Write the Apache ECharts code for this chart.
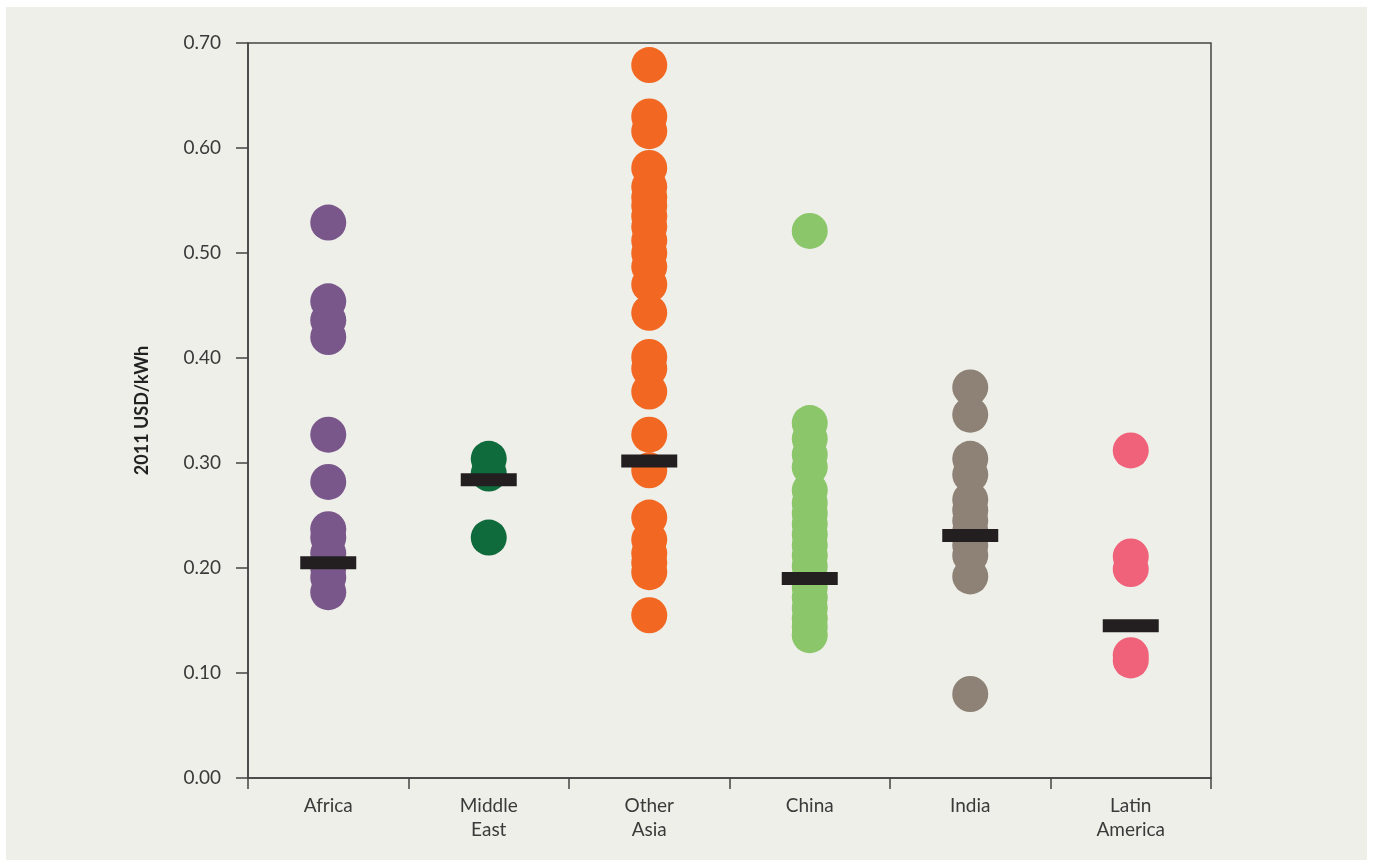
<!DOCTYPE html>
<html>
<head>
<meta charset="utf-8">
<script src="https://cdn.jsdelivr.net/npm/echarts@6/dist/echarts.min.js"></script>
<style>
  html, body { margin: 0; padding: 0; background: #ffffff; }
  #panel { position: absolute; left: 6px; top: 7px; width: 1361px; height: 853px; background: #efefe9; }
  #chart { position: absolute; left: 0; top: 0; width: 1373px; height: 865px; }
</style>
</head>
<body>
<div id="panel"></div>
<div id="chart"></div>
<script>
const categories = ['Africa', 'Middle\nEast', 'Other\nAsia', 'China', 'India', 'Latin\nAmerica'];
const colors = ['#7a578b', '#0f6b3b', '#f26722', '#8bc66a', '#8d8275', '#f0627a'];
const yTicks = [0, 0.1, 0.2, 0.3, 0.4, 0.5, 0.6, 0.7];

const africa = [0.529, 0.454, 0.436, 0.420, 0.327, 0.282, 0.237, 0.229, 0.214, 0.200, 0.191, 0.177];
const middleEast = [0.304, 0.290, 0.229];
const otherAsia = [0.679, 0.630, 0.616, 0.581, 0.563, 0.553, 0.545, 0.535, 0.525, 0.512, 0.500, 0.487, 0.470, 0.443,
                   0.401, 0.390, 0.368, 0.327, 0.293, 0.248, 0.227, 0.214, 0.205, 0.196, 0.155];
const china = [0.521, 0.338, 0.323, 0.308, 0.296, 0.274, 0.262, 0.252, 0.242, 0.232, 0.222, 0.212, 0.202, 0.192,
               0.182, 0.172, 0.162, 0.152, 0.144, 0.136];
const india = [0.372, 0.346, 0.304, 0.289, 0.265, 0.255, 0.245, 0.235, 0.222, 0.212, 0.192, 0.080];
const latinAmerica = [0.312, 0.211, 0.199, 0.117, 0.112];
const medians = [0.205, 0.284, 0.302, 0.190, 0.231, 0.145];

const groups = [africa, middleEast, otherAsia, china, india, latinAmerica];

const series = groups.map((vals, i) => ({
  type: 'scatter',
  name: categories[i],
  symbol: 'circle',
  symbolSize: 36,
  itemStyle: { color: colors[i], opacity: 1 },
  data: vals.map(v => [categories[i], v]),
  z: 2,
  silent: true
}));

series.push({
  type: 'scatter',
  name: 'median',
  symbol: 'rect',
  symbolSize: [56, 13],
  itemStyle: { color: '#231f20', opacity: 1 },
  data: medians.map((v, i) => [categories[i], v]),
  z: 5,
  silent: true
});

const chart = echarts.init(document.getElementById('chart'), null, { renderer: 'canvas' });
chart.setOption({
  backgroundColor: 'transparent',
  animation: false,
  textStyle: { fontFamily: 'Lato, "Open Sans", sans-serif' },
  grid: {
    left: 248, right: 162, top: 43, bottom: 87,
    show: true, borderColor: '#444444', borderWidth: 1.5, backgroundColor: 'transparent'
  },
  xAxis: {
    type: 'category',
    data: categories,
    boundaryGap: true,
    axisLine: { show: true, lineStyle: { color: '#444444', width: 1.5 } },
    axisTick: { show: true, length: 11, lineStyle: { color: '#444444', width: 1.5 } },
    axisLabel: { color: '#3a3a3a', fontSize: 19, lineHeight: 24, margin: 16, interval: 0,
                 fontFamily: 'Lato, "Open Sans", sans-serif' },
    splitLine: { show: false }
  },
  yAxis: {
    type: 'value',
    min: 0, max: 0.7, interval: 0.1,
    name: '2011 USD/kWh',
    nameLocation: 'middle',
    nameGap: 97,
    nameRotate: 90,
    nameTextStyle: { color: '#222222', fontSize: 18, fontWeight: 'bold', fontFamily: 'Lato, "Open Sans", sans-serif' },
    axisLine: { show: true, lineStyle: { color: '#444444', width: 1.5 } },
    axisTick: { show: true, length: 12, lineStyle: { color: '#444444', width: 1.5 } },
    axisLabel: { color: '#3a3a3a', fontSize: 19, margin: 27,
                 formatter: v => v.toFixed(2), fontFamily: 'Lato, "Open Sans", sans-serif' },
    splitLine: { show: false }
  },
  series: series
});
</script>
</body>
</html>
